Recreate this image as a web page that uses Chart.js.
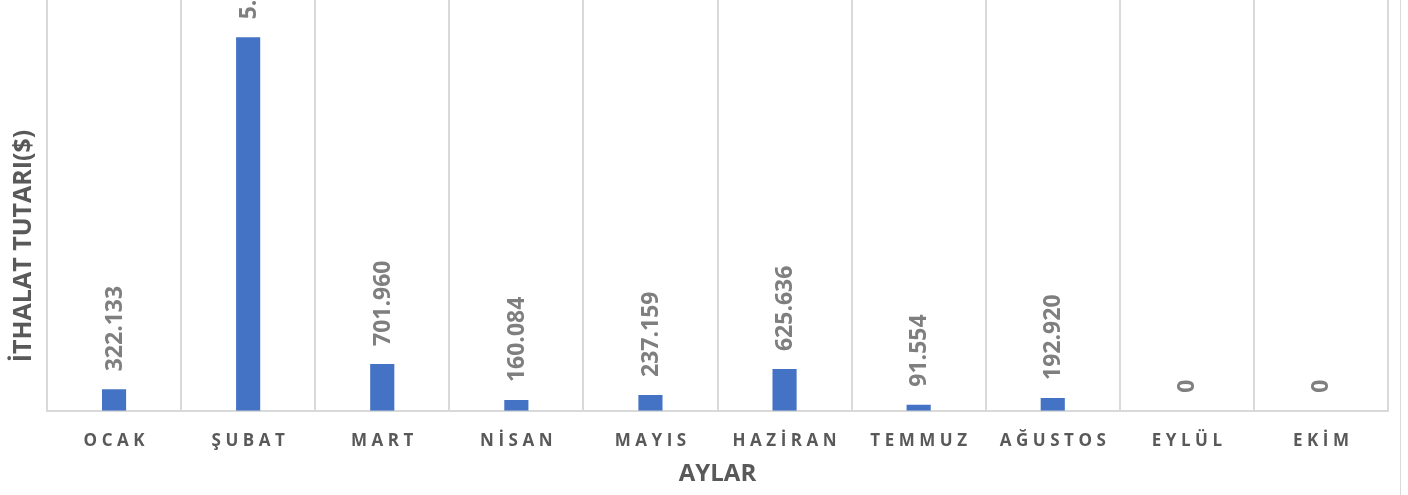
<!DOCTYPE html>
<html>
<head>
<meta charset="utf-8">
<script src="https://cdn.jsdelivr.net/npm/chart.js@4"></script>
<style>
  html, body { margin: 0; padding: 0; background: #fff; overflow: hidden; }
  #wrap { position: relative; width: 1408px; height: 495px; }
  #edge { position: absolute; left: 1400px; top: 0; width: 1px; height: 495px; background: #d9d9d9; }
</style>
</head>
<body>
<div id="wrap">
  <canvas id="myChart" width="1408" height="495"></canvas>
  <div id="edge"></div>
</div>
<script>
// Veriler
const aylar = ['OCAK', 'ŞUBAT', 'MART', 'NİSAN', 'MAYIS', 'HAZİRAN', 'TEMMUZ', 'AĞUSTOS', 'EYLÜL', 'EKİM'];
const ithalatTutari = [322133, 5600000, 701960, 160084, 237159, 625636, 91554, 192920, 0, 0];
const yEksenBasligi = 'İTHALAT TUTARI($)';
const xEksenBasligi = 'AYLAR';

const fontAdi = '"Open Sans", "Liberation Sans", sans-serif';

// 322133 -> "322.133"
const formatla = (v) => String(Math.round(v)).replace(/\B(?=(\d{3})+(?!\d))/g, '.');

// Cubuklarin ustune dikey deger yazar
const degerEtiketleri = {
    id: 'degerEtiketleri',
    afterDatasetsDraw(chart) {
        const ctx = chart.ctx;
        const meta = chart.getDatasetMeta(0);
        ctx.save();
        ctx.fillStyle = '#7f7f7f';
        ctx.font = `bold 23px ${fontAdi}`;
        ctx.textAlign = 'left';
        ctx.textBaseline = 'middle';
        meta.data.forEach((bar, i) => {
            ctx.save();
            ctx.translate(bar.x + 1, bar.y - 18);
            ctx.rotate(-Math.PI / 2);
            ctx.fillText(formatla(ithalatTutari[i]), 0, 0);
            ctx.restore();
        });
        ctx.restore();
    }
};

// Y ekseni basligi (grafikte ortalanmamis)
const yBaslik = {
    id: 'yBaslik',
    afterDraw(chart) {
        const ctx = chart.ctx;
        ctx.save();
        ctx.fillStyle = '#595959';
        ctx.font = `bold 25px ${fontAdi}`;
        ctx.textAlign = 'center';
        ctx.textBaseline = 'middle';
        ctx.translate(24, 246);
        ctx.rotate(-Math.PI / 2);
        ctx.fillText(yEksenBasligi, 0, 0);
        ctx.restore();
    }
};

const ctx = document.getElementById('myChart');

const myChart = new Chart(ctx, {
    type: 'bar',
    data: {
        labels: aylar,
        datasets: [{
            data: ithalatTutari,
            backgroundColor: '#4472c4',
            barPercentage: 0.18,
            categoryPercentage: 1
        }]
    },
    options: {
        responsive: false,
        animation: false,
        events: [],
        layout: {
            padding: { left: 47, right: 20, top: 0, bottom: 2 }
        },
        plugins: {
            legend: { display: false },
            tooltip: { enabled: false }
        },
        scales: {
            y: {
                display: false,
                min: 0,
                max: 6160000
            },
            x: {
                offset: true,
                grid: {
                    offset: true,
                    color: '#d9d9d9',
                    lineWidth: 2,
                    drawTicks: false
                },
                border: {
                    color: '#d9d9d9',
                    width: 2
                },
                ticks: {
                    color: '#595959',
                    padding: 20,
                    maxRotation: 0,
                    font: { family: fontAdi, size: 17, weight: 'bold' },
                    callback: function (value) {
                        return this.getLabelForValue(value).split('').join('\u2009\u200A');
                    }
                },
                title: {
                    display: true,
                    text: xEksenBasligi,
                    color: '#595959',
                    padding: { top: -11, bottom: 4 },
                    font: { family: fontAdi, size: 24, weight: 'bold' }
                }
            }
        }
    },
    plugins: [degerEtiketleri, yBaslik]
});
</script>
</body>
</html>
